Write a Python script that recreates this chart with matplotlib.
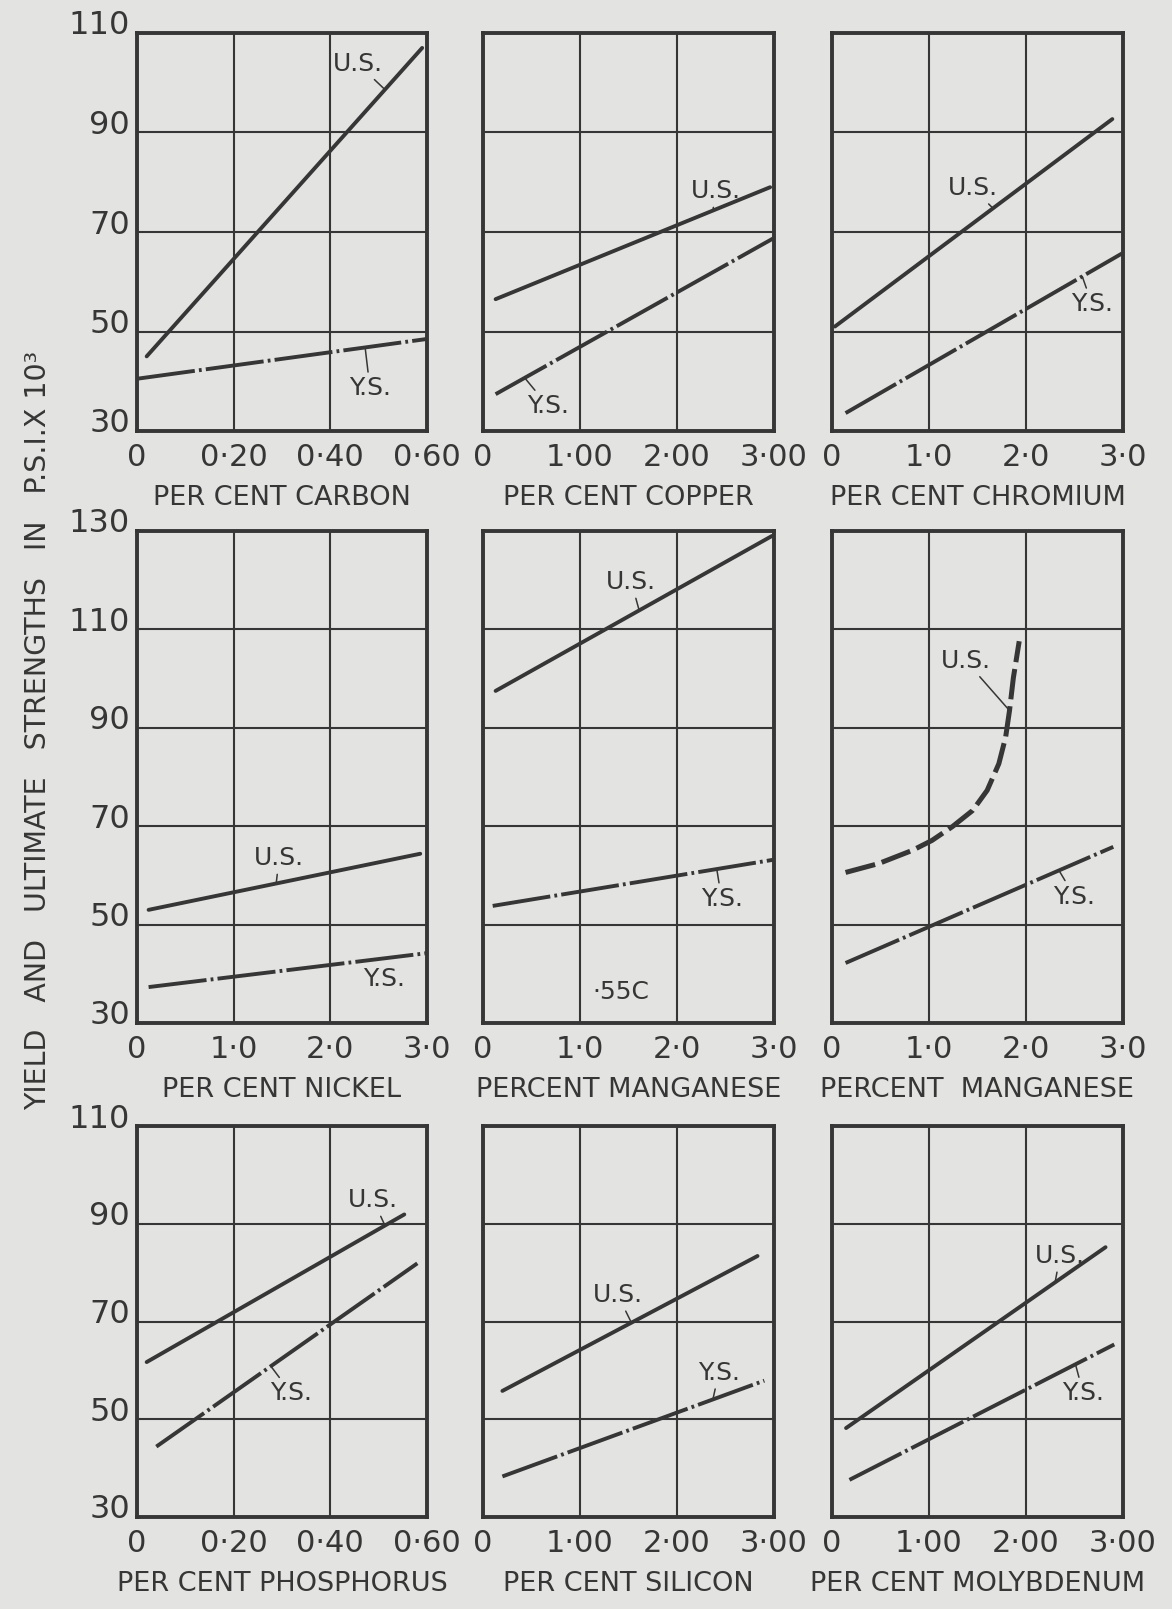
import numpy as np
import matplotlib
matplotlib.use("Agg")
import matplotlib.pyplot as plt
from matplotlib.transforms import ScaledTranslation, blended_transform_factory

plt.rcParams['font.family'] = ['DejaVu Sans']
plt.rcParams['lines.scale_dashes'] = False

INK = '#363636'
PAPER = '#e3e3e1'

# panel names (x-axis captions), read left to right, top to bottom
titles = ["PER CENT CARBON", "PER CENT COPPER", "PER CENT CHROMIUM",
          "PER CENT NICKEL", "PERCENT MANGANESE", "PERCENT  MANGANESE",
          "PER CENT PHOSPHORUS", "PER CENT SILICON", "PER CENT MOLYBDENUM"]
x_max = [0.6, 3.0, 3.0, 3.0, 3.0, 3.0, 0.6, 3.0, 3.0]
x_ticklabels = [["0", "0·20", "0·40", "0·60"],
                ["0", "1·00", "2·00", "3·00"],
                ["0", "1·0", "2·0", "3·0"],
                ["0", "1·0", "2·0", "3·0"],
                ["0", "1·0", "2·0", "3·0"],
                ["0", "1·0", "2·0", "3·0"],
                ["0", "0·20", "0·40", "0·60"],
                ["0", "1·00", "2·00", "3·00"],
                ["0", "1·00", "2·00", "3·00"]]
y_ticks_short = [30, 50, 70, 90, 110]
y_ticks_tall = [30, 50, 70, 90, 110, 130]

# ultimate strength (U.S.), thousands of p.s.i.
us_x = [[0.02, 0.59], [0.13, 2.96], [0.03, 2.89],
        [0.12, 2.93], [0.13, 2.98],
        [0.14, 0.48, 0.83, 1.03, 1.24, 1.45, 1.60, 1.72, 1.79, 1.83, 1.87, 1.93],
        [0.02, 0.553], [0.20, 2.83], [0.145, 2.82]]
us_y = [[45.0, 107.0], [56.5, 79.0], [51.0, 92.7],
        [53.0, 64.4], [97.5, 129.0],
        [60.6, 62.4, 65.1, 67.1, 69.9, 73.2, 77.3, 82.7, 88.1, 93.5, 100.2, 107.6],
        [61.7, 91.9], [55.8, 83.4], [48.2, 85.2]]

# yield strength (Y.S.)
ys_x = [[0.0, 0.6], [0.13, 3.0], [0.14, 3.0], [0.12, 3.0], [0.10, 3.0],
        [0.14, 2.9], [0.04, 0.58], [0.20, 2.9], [0.18, 2.91]]
ys_y = [[40.5, 48.5], [37.4, 68.8], [33.6, 65.8], [37.3, 44.2], [53.8, 63.2],
        [42.2, 65.8], [44.4, 81.9], [38.3, 57.9], [37.6, 65.3]]

# label text position and the x where its leader meets the curve (None = no leader)
us_labels = [(0.457, 103.8, 0.513), (2.40, 78.2, 2.37), (1.45, 78.8, 1.66),
             (1.47, 63.5, 1.44), (1.53, 119.6, 1.61), (1.38, 103.6, 1.83),
             (0.489, 94.8, 0.513), (1.39, 75.4, 1.53), (2.35, 83.4, 2.30)]
ys_labels = [(0.482, 38.6, 0.472), (0.67, 35.0, 0.43), (2.68, 55.5, 2.58),
             (2.56, 38.9, None), (2.46, 55.2, 2.41), (2.50, 55.7, 2.34),
             (0.319, 55.3, 0.277), (2.43, 59.5, 2.37), (2.59, 55.3, 2.51)]

W, H = 1172, 1609
col_px = [(137, 427), (483, 774), (832, 1123)]
row_px = [(33, 431), (531, 1023), (1126, 1517)]

fig = plt.figure(figsize=(W / 100, H / 100), dpi=100)
fig.patch.set_facecolor(PAPER)

dash_dot = (0, (42, 3, 2, 3))
long_dash = (0, (22, 5))

for i in range(9):
    r, c = divmod(i, 3)
    x0, x1 = col_px[c]
    y0, y1 = row_px[r]
    ax = fig.add_axes([x0 / W, 1 - y1 / H, (x1 - x0) / W, (y1 - y0) / H])
    ax.set_facecolor(PAPER)
    yt = y_ticks_tall if r == 1 else y_ticks_short
    ax.set_xlim(0, x_max[i])
    ax.set_ylim(yt[0], yt[-1])
    ax.set_xticks(np.linspace(0, x_max[i], 4))
    ax.set_xticklabels(x_ticklabels[i])
    ax.set_yticks(yt)
    ax.set_yticklabels([])
    if c == 0:
        # value labels sit a little above their grid line, as in the drawing
        tr = blended_transform_factory(ax.transAxes, ax.transData) + \
            ScaledTranslation(-0.07, 0.07, fig.dpi_scale_trans)
        for v in yt:
            ax.text(0, v, str(v), transform=tr, ha='right', va='center',
                    fontsize=23, color=INK)
    ax.tick_params(length=0, colors=INK, labelsize=22)
    ax.tick_params(axis='x', pad=9)
    ax.grid(True, color=INK, lw=1.5)
    for s in ax.spines.values():
        s.set_color(INK)
        s.set_linewidth(2.8)
    ax.set_xlabel(titles[i], fontsize=19.5, color=INK, labelpad=9)

    # U.S. curve
    us_style = long_dash if i == 5 else '-'
    us_lw = 3.6 if i == 5 else 2.8
    ax.plot(us_x[i], us_y[i], color=INK, lw=us_lw, ls=us_style,
            solid_capstyle='round', dash_capstyle='butt', zorder=3)
    # Y.S. curve
    ax.plot(ys_x[i], ys_y[i], color=INK, lw=2.8, ls=dash_dot,
            solid_capstyle='round', dash_capstyle='butt', zorder=3)

    for (tx, ty, cx), xs, ys, name in [(us_labels[i], us_x[i], us_y[i], "U.S."),
                                       (ys_labels[i], ys_x[i], ys_y[i], "Y.S.")]:
        if cx is None:
            ax.text(tx, ty, name, fontsize=18, color=INK, ha='center', va='center')
        else:
            ax.annotate(name, xy=(cx, np.interp(cx, xs, ys)), xytext=(tx, ty),
                        fontsize=18, color=INK, ha='center', va='center',
                        arrowprops=dict(arrowstyle='-', color=INK, lw=1.1,
                                        shrinkA=1, shrinkB=0))
    if i == 4:
        ax.text(1.42, 36.4, "·55C", fontsize=18, color=INK, ha='center', va='center')

fig.text(38 / W, 1 - 730 / H,
         "YIELD   AND   ULTIMATE   STRENGTHS   IN   P.S.I.X 10³",
         rotation=90, ha='center', va='center', fontsize=20.5, color=INK)

fig.savefig("out.png", dpi=100, facecolor=PAPER)
